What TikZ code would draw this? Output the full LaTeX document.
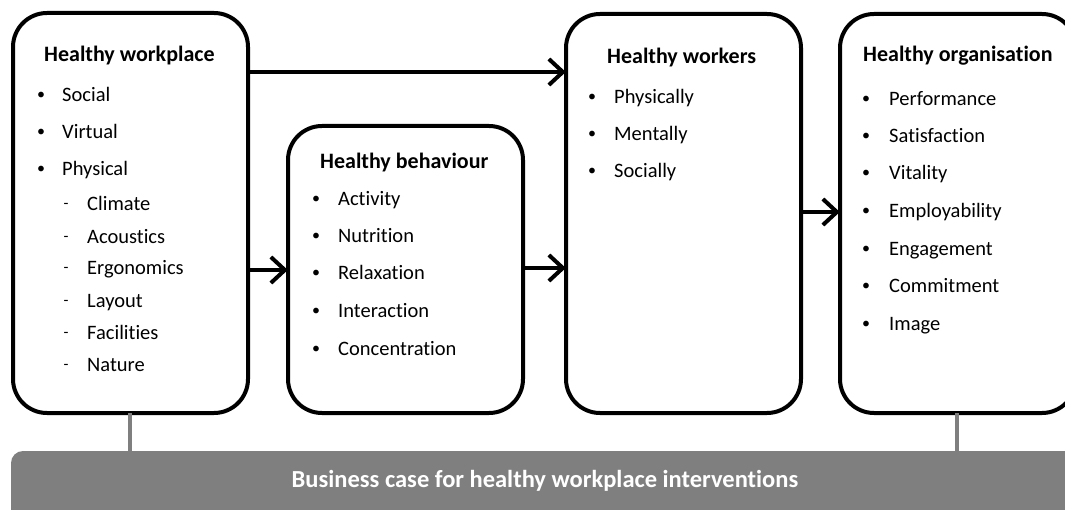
\documentclass[tikz,border=0pt]{standalone}
\usepackage{fontspec}
\setmainfont{Carlito}[Ligatures=NoCommon]
\usetikzlibrary{arrows.meta}
\definecolor{bargray}{HTML}{7F7F7F}
\begin{document}
\begin{tikzpicture}[x=1pt,y=-1pt,
  box/.style={draw=black,line width=4pt,rounded corners=34pt,fill=white},
  ttl/.style={font=\fontsize{22}{26}\selectfont\bfseries,anchor=mid west,inner sep=0pt,yshift=-5pt},
  itm/.style={font=\fontsize{20.5}{24}\selectfont,anchor=mid west,inner sep=0pt,yshift=-5pt},
  bul/.style={font=\fontsize{16}{20}\selectfont,anchor=mid,inner sep=0pt,yshift=-3pt},
  arr/.style={line width=4pt,-{Straight Barb[length=14pt,width=26pt,line width=4pt]}},
  link/.style={draw=bargray,line width=4pt}]
\clip (0,0) rectangle (1065,510);
\useasboundingbox (0,0) rectangle (1065,510);
% gray bar
\draw[fill=bargray,draw=none,rounded corners=12pt] (11,451) rectangle (1110,560);
\node[font=\fontsize{24.5}{28}\selectfont\bfseries,text=white] (bar) at (545,481) {Business case for healthy workplace interventions};
\coordinate (barL) at (130,451);
\coordinate (barR) at (957,451);
% boxes
\draw[box] (13,13) rectangle (248,413);
\draw[box] (288,126) rectangle (523,413);
\draw[box] (566,14) rectangle (801,413);
\draw[box] (840,14) rectangle (1076,413);
\node[inner sep=0pt,minimum width=235pt,minimum height=400pt] (B1) at (130.5,213) {};
\node[inner sep=0pt,minimum width=235pt,minimum height=287pt] (B2) at (405.5,269.5) {};
\node[inner sep=0pt,minimum width=235pt,minimum height=399pt] (B3) at (683.5,213.5) {};
\node[inner sep=0pt,minimum width=236pt,minimum height=399pt] (B4) at (958,213.5) {};
% gray links
\draw[link] (B1.south -| barL) -- (barL);
\draw[link] (B4.south -| barR) -- (barR);
% arrows
\draw[arr] (B1.east |- 0,72) -- (B3.west |- 0,72);
\draw[arr] (B1.east |- 0,270) -- (B2.west |- 0,270);
\draw[arr] (B2.east |- 0,268) -- (B3.west |- 0,268);
\draw[arr] (B3.east |- 0,212) -- (B4.west |- 0,212);
% box 1
\node[ttl] (t1) at (44,54) {Healthy workplace};
\foreach \y/\t [count=\i] in {94/Social,131/Virtual,168/Physical}{
  \node[bul] (p1b\i) at (41,\y) {•};
  \node[itm] (p1t\i) at (62,\y) {\t};
}
\foreach \y/\t [count=\i] in {203/Climate,236/Acoustics,267/Ergonomics,300/Layout,332/Facilities,364/Nature}{
  \node[bul] (s1b\i) at (66,\y) {-};
  \node[itm] (s1t\i) at (87,\y) {\t};
}
% box 2
\node[ttl] (t2) at (320,161) {Healthy behaviour};
\foreach \y/\t [count=\i] in {198/Activity,235/Nutrition,272/Relaxation,310/Interaction,348/Concentration}{
  \node[bul] (p2b\i) at (316,\y) {•};
  \node[itm] (p2t\i) at (338,\y) {\t};
}
% box 3
\node[ttl] (t3) at (607,56) {Healthy workers};
\foreach \y/\t [count=\i] in {96/Physically,133/Mentally,170/Socially}{
  \node[bul] (p3b\i) at (592,\y) {•};
  \node[itm] (p3t\i) at (614,\y) {\t};
}
% box 4
\node[ttl] (t4) at (863,54) {Healthy organisation};
\foreach \y/\t [count=\i] in {98/Performance,135/Satisfaction,172/Vitality,210/Employability,248/Engagement,285/Commitment,323/Image}{
  \node[bul] (p4b\i) at (866,\y) {•};
  \node[itm] (p4t\i) at (889,\y) {\t};
}
\end{tikzpicture}
\end{document}
